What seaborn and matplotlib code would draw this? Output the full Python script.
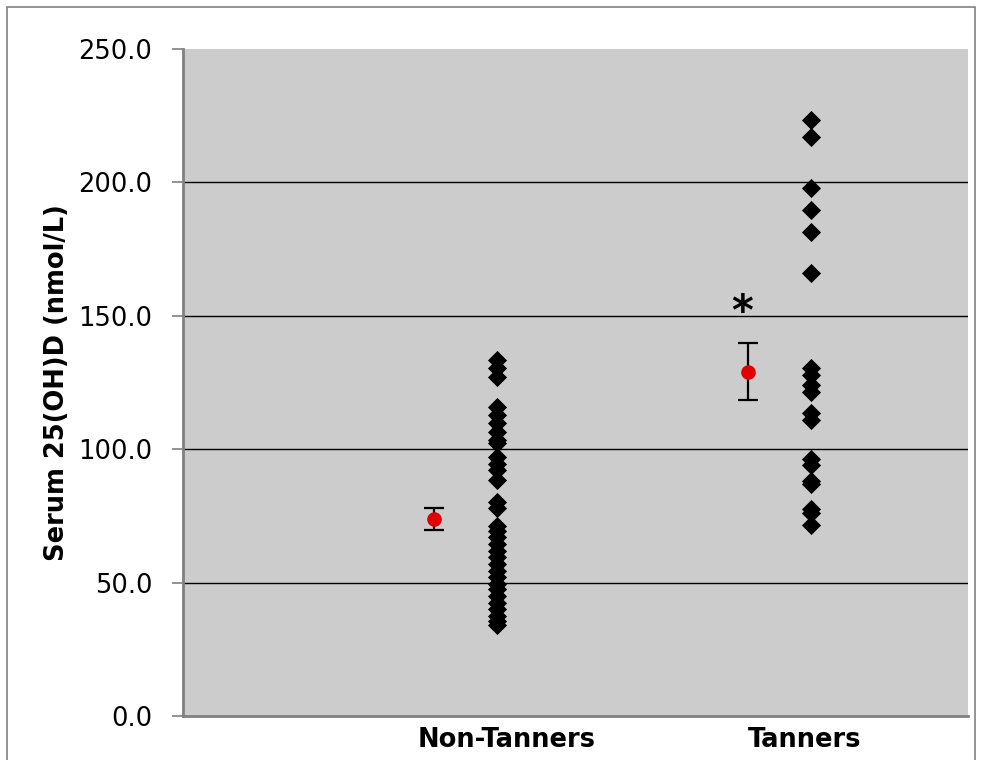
import numpy as np
import pandas as pd
import seaborn as sns
import matplotlib
matplotlib.use("Agg")
import matplotlib.pyplot as plt
from matplotlib.patches import Rectangle

# valores (nmol/L)
grupos = ["Non-Tanners", "Tanners"]
non_tanners = [133.6, 130.3, 127.1, 115.7, 112.8, 109.7, 106.3, 103.4, 102.3, 97.0,
               94.5, 92.2, 88.5, 80.1, 78.1, 71.3, 69.5, 67.0, 64.5, 62.0,
               59.5, 57.0, 54.5, 52.0, 49.5, 47.5, 45.0, 42.5, 40.0, 37.5,
               35.5, 34.2]
tanners = [223.5, 217.0, 198.0, 189.5, 181.5, 166.0, 130.3, 127.8, 124.0, 121.4,
           113.7, 110.9, 96.3, 94.0, 88.2, 87.0, 77.5, 76.2, 71.5]
medias = [73.8, 129.1]
erros = [4.2, 10.7]

pos_grupo = [2, 3]      # posicao x dos pontos
pos_media = [1.8, 2.8]  # media deslocada para a esquerda
pos_rotulo = [2.03, 2.98]

tabela = pd.DataFrame({
    "grupo": ["Non-Tanners"] * len(non_tanners) + ["Tanners"] * len(tanners),
    "valor": non_tanners + tanners,
})
tabela["x"] = tabela["grupo"].map(dict(zip(grupos, pos_grupo)))

plt.rcParams["font.family"] = ["DejaVu Sans"]

fig = plt.figure(figsize=(9.82, 7.6), dpi=100)
ax = fig.add_axes([183 / 982, 44 / 760, 785 / 982, 667 / 760])
ax.set_facecolor("#cccccc")

# linhas de grade
for y in [50, 100, 150, 200]:
    ax.axhline(y, color="black", lw=1, zorder=1)

sns.scatterplot(data=tabela, x="x", y="valor", marker="D", color="black",
                s=95, edgecolor="black", linewidth=0, ax=ax, zorder=3, legend=False)

ax.errorbar(pos_media, medias, yerr=erros, fmt="o", color="#e00000", ms=9.5,
            ecolor="black", elinewidth=1.6, capsize=7.5, capthick=1.6, zorder=4)

ax.text(pos_media[1] - 0.02, 151, "*", ha="center", va="center", fontsize=30,
        fontweight="bold", color="black")

ax.set_xlim(1, 3.5)
ax.set_ylim(0, 250)
ax.set_yticks(np.arange(0, 251, 50))
ax.set_yticklabels([f"{v:.1f}" for v in np.arange(0, 251, 50)], fontsize=18.5)
ax.set_xticks(pos_rotulo)
ax.set_xticklabels(grupos, fontsize=18.5, fontweight="bold")
ax.tick_params(axis="x", length=0, pad=8)
ax.tick_params(axis="y", length=8, width=1.2, color="#808080", pad=14)
ax.set_xlabel("")
ax.set_ylabel("Serum 25(OH)D (nmol/L)", fontsize=18.5, fontweight="bold", labelpad=6)

for lado in ["top", "right"]:
    ax.spines[lado].set_visible(False)
ax.spines["left"].set_color("#808080")
ax.spines["left"].set_linewidth(2)
ax.spines["bottom"].set_color("#808080")
ax.spines["bottom"].set_linewidth(2)

# moldura do grafico
fig.patches.append(Rectangle((7 / 982, -0.01), 968 / 982, 753 / 760 + 0.01,
                             transform=fig.transFigure, fill=False,
                             edgecolor="#808080", lw=1.2))

fig.savefig("out.png", dpi=100)
